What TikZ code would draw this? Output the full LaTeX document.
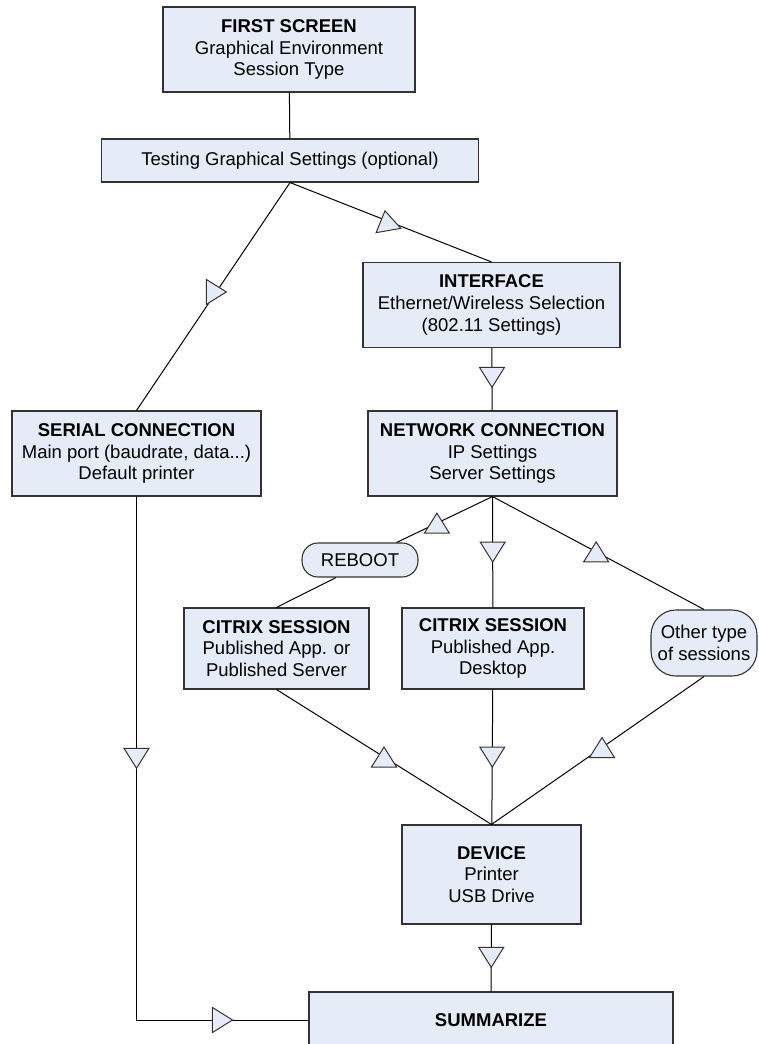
\documentclass[tikz,border=0pt]{standalone}
\usepackage{fontspec}
\setmainfont{Liberation Sans}
\definecolor{boxfill}{RGB}{230,236,247}
\tikzset{
  box/.style={draw=black!80, fill=boxfill, line width=1.1pt, align=center, inner sep=0pt,
    font=\fontsize{18.5}{21.7}\selectfont},
  roundbox/.style={box, rounded corners=16pt},
  flowtri/.pic={\draw[fill=boxfill, draw=black!80, line width=1pt] (10,0) -- (-10,12.5) -- (-10,-12.5) -- cycle;}
}

\begin{document}
\begin{tikzpicture}[x=1pt, y=-1pt, line width=1pt]
\useasboundingbox (0,0) rectangle (759,1044);

\node[box, minimum width=252, minimum height=85] (first) at (289,49.5) {\textbf{FIRST SCREEN}\\Graphical Environment\\Session Type};
\node[box, minimum width=377, minimum height=43] (test) at (290,160.5) {Testing Graphical Settings (optional)};
\node[box, minimum width=257, minimum height=85] (iface) at (491.5,305) {\textbf{INTERFACE}\\Ethernet/Wireless Selection\\(802.11 Settings)};
\node[box, minimum width=249, minimum height=85] (net) at (492.5,453.5) {\textbf{NETWORK CONNECTION}\\IP Settings\\Server Settings};
\node[box, minimum width=249, minimum height=85] (serial) at (136.5,453.5) {\textbf{SERIAL CONNECTION}\\Main port (baudrate, data...)\\Default printer};
\node[roundbox, minimum width=116, minimum height=34] (reboot) at (360,560) {REBOOT};
\node[box, minimum width=185, minimum height=81] (citrixA) at (276.5,648.5) {\textbf{CITRIX SESSION}\\Published App. or\\Published Server};
\node[box, minimum width=182, minimum height=81] (citrixB) at (493,648.5) {\textbf{CITRIX SESSION}\\Published App.\\Desktop};
\node[box, rounded corners=25pt, minimum width=106, minimum height=66] (other) at (704,643) {Other type\\of sessions};
\node[box, minimum width=179, minimum height=99] (device) at (491.5,874.5) {\textbf{DEVICE}\\Printer\\USB Drive};
\node[box, minimum width=364, minimum height=56] (summ) at (491,1020) {\textbf{SUMMARIZE}};

\draw (first) -- (test);
\draw (test.south) -- (serial.north) pic[pos=.48] {flowtri};
\draw (test.south) -- (iface.north) pic[pos=.48, rotate=100] {flowtri};
\draw (iface) -- (net) pic[pos=.47, rotate=-90] {flowtri};
\draw (net.south) -- (reboot) pic[pos=.58, rotate=90] {flowtri};
\draw (net.south) -- (citrixB) pic[pos=.5, rotate=-90] {flowtri};
\draw (net.south) -- (other.north) pic[pos=.49, rotate=90] {flowtri};
\draw ([xshift=-24]reboot.south) -- (citrixA.north);
\draw (citrixA.south) -- (device.north) pic[pos=.5, rotate=90] {flowtri};
\draw (citrixB) -- (device) pic[pos=.5, rotate=-90] {flowtri};
\draw (other.south) -- (device.north) pic[pos=.48, rotate=90] {flowtri};
\draw (device) -- (summ) pic[pos=.49, rotate=-90] {flowtri};
\draw (serial.south) |- (summ.west) pic[pos=.25, rotate=-90] {flowtri} pic[pos=.75] {flowtri};
\end{tikzpicture}
\end{document}
